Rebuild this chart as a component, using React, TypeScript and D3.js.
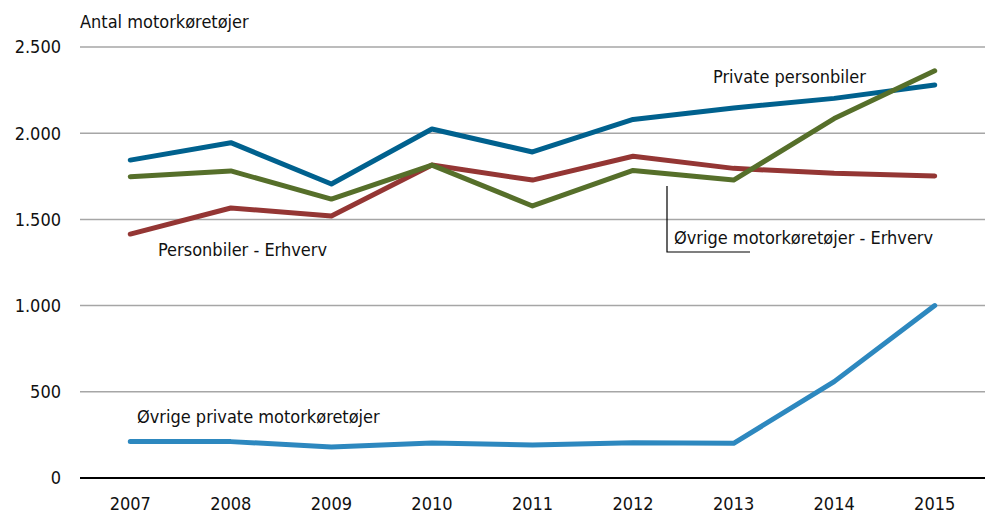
import React from 'react';
import * as d3 from 'd3';

// Data
const years = ['2007', '2008', '2009', '2010', '2011', '2012', '2013', '2014', '2015'];
const privatePersonbiler = [1844, 1945, 1705, 2024, 1891, 2080, 2146, 2202, 2280];
const personbilerErhverv = [1415, 1566, 1520, 1815, 1728, 1866, 1796, 1767, 1752];
const oevrigeErhverv = [1748, 1781, 1618, 1815, 1578, 1784, 1728, 2085, 2362];
const oevrigePrivate = [211, 211, 180, 203, 191, 205, 201, 559, 1000];
const yTicks = [0, 500, 1000, 1500, 2000, 2500];

const seriesList = [
  { name: 'Private personbiler', values: privatePersonbiler, color: '#00618e' },
  { name: 'Personbiler - Erhverv', values: personbilerErhverv, color: '#943634' },
  { name: 'Øvrige motorkøretøjer - Erhverv', values: oevrigeErhverv, color: '#566f2a' },
  { name: 'Øvrige private motorkøretøjer', values: oevrigePrivate, color: '#2d88bf' },
];

const W = 989;
const H = 514;
const left = 80;
const right = 985;
const top = 47;
const bottom = 478;
const font = '"Liberation Sans Narrow", "DejaVu Sans Condensed", "Arial Narrow", sans-serif';
const fs = 18;

export default function App() {
  const x = d3.scalePoint<string>().domain(years).range([left, right]).padding(0.5);
  const y = d3.scaleLinear().domain([0, 2500]).range([bottom, top]);
  const fmt = (v: number) => d3.format(',')(v).replace(/,/g, '.');

  const line = d3
    .line<number>()
    .x((_, i) => x(years[i]) as number)
    .y((d) => y(d));

  return (
    <svg width={W} height={H} style={{ position: 'absolute', left: 0, top: 0 }} fontFamily={font}>
      <rect width={W} height={H} fill="#fff" />
      {yTicks.map((t) => (
        <g key={t}>
          {t > 0 && (
            <line x1={left} x2={right} y1={y(t)} y2={y(t)} stroke="#a6a6a6" strokeWidth={1.5} />
          )}
          <text x={61} y={y(t)} dy="0.35em" textAnchor="end" fontSize={fs} fill="#111">
            {fmt(t)}
          </text>
        </g>
      ))}
      <text x={80} y={28} fontSize={fs} fill="#111">
        Antal motorkøretøjer
      </text>
      {years.map((yr) => (
        <text key={yr} x={x(yr)} y={510} textAnchor="middle" fontSize={fs} fill="#111">
          {yr}
        </text>
      ))}
      {seriesList.map((s) => (
        <path
          key={s.name}
          d={line(s.values) || ''}
          fill="none"
          stroke={s.color}
          strokeWidth={5}
          strokeLinejoin="round"
          strokeLinecap="round"
        />
      ))}
      <line x1={left} x2={right} y1={y(0)} y2={y(0)} stroke="#000" strokeWidth={2} />
      <text x={713} y={83} fontSize={fs} fill="#111">
        Private personbiler
      </text>
      <text x={158} y={256} fontSize={fs} fill="#111">
        Personbiler - Erhverv
      </text>
      <text x={674} y={244} fontSize={fs} fill="#111">
        Øvrige motorkøretøjer - Erhverv
      </text>
      <polyline points="667,186 667,252 750,252" fill="none" stroke="#000" strokeWidth={1.2} />
      <text x={137} y={423} fontSize={fs} fill="#111">
        Øvrige private motorkøretøjer
      </text>
    </svg>
  );
}
